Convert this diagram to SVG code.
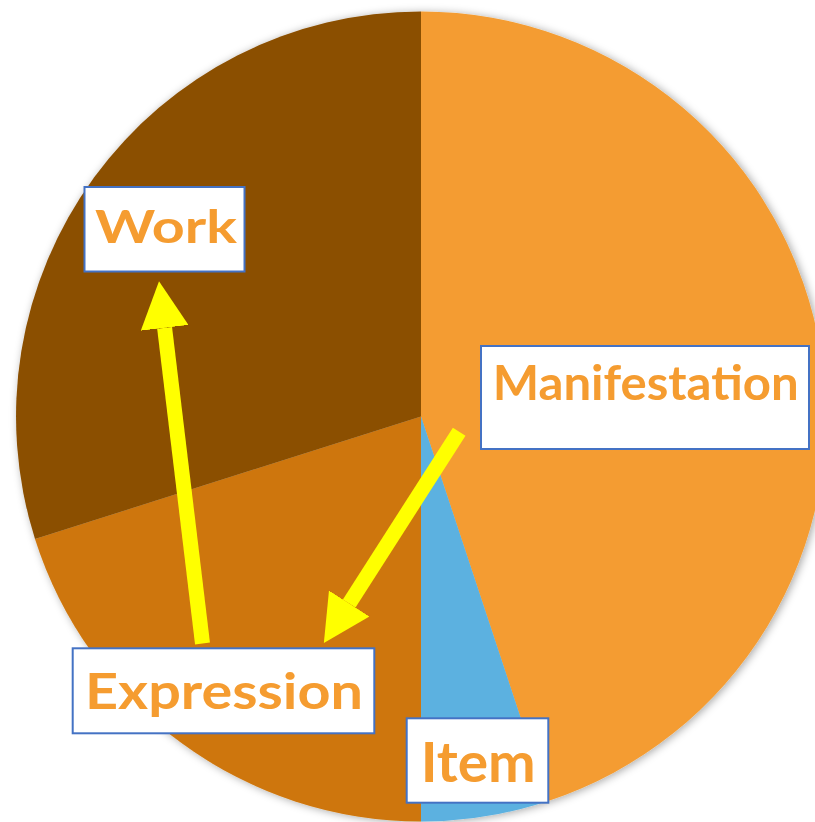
<svg xmlns="http://www.w3.org/2000/svg" width="815" height="822" viewBox="0 0 815 822">
  <defs>
    <filter id="shadow" x="-10%" y="-10%" width="120%" height="120%">
      <feDropShadow dx="2" dy="1" stdDeviation="4" flood-color="#000" flood-opacity="0.35"/>
    </filter>
    <marker id="head" markerUnits="userSpaceOnUse" markerWidth="48" markerHeight="48" refX="0" refY="24" orient="auto" viewBox="0 0 48 48">
      <path d="M0,0 L47,24 L0,48 Z" fill="#FFFF00"/>
    </marker>
    <style>
      .box { fill: #FFFFFF; stroke: #4472C4; stroke-width: 2; }
      .lbl { font-family: Lato, "Open Sans", "Liberation Sans", sans-serif; font-weight: 700; fill: #F59C30; }
      .arrow { stroke: #FFFF00; stroke-width: 15; fill: none; stroke-linecap: butt; marker-end: url(#head); }
    </style>
  </defs>
  <rect width="815" height="822" fill="#FFFFFF"/>
  <g id="pie" filter="url(#shadow)">
    <path id="slice-manifestation" d="M421,416.5 L421,11.5 A405,405 0 0 1 548.2,801 Z" fill="#F49C30"/>
    <path id="slice-item" d="M421,416.5 L548.2,801 A405,405 0 0 1 421,821.5 Z" fill="#5BB1E0"/>
    <path id="slice-expression" d="M421,416.5 L421,821.5 A405,405 0 0 1 35,539 Z" fill="#CE760A"/>
    <path id="slice-work" d="M421,416.5 L35,539 A405,405 0 0 1 421,11.5 Z" fill="#8B4F06"/>
  </g>
  <g id="connectors">
    <line class="arrow" x1="202.5" y1="643.5" x2="164.6" y2="327.8"/>
    <line class="arrow" x1="459.2" y1="431.7" x2="349.2" y2="603.5"/>
  </g>
  <g id="node-work">
    <rect class="box" x="84.5" y="187" width="160" height="84.5"/>
    <text class="lbl" x="95" y="243.3" font-size="45" textLength="142" lengthAdjust="spacingAndGlyphs">Work</text>
  </g>
  <g id="node-manifestation">
    <rect class="box" x="481" y="346" width="328" height="103"/>
    <text class="lbl" x="492.7" y="400" font-size="47.5" textLength="306" lengthAdjust="spacingAndGlyphs">Manifestation</text>
  </g>
  <g id="node-expression">
    <rect class="box" x="72.7" y="648.3" width="301.6" height="85"/>
    <text class="lbl" x="85" y="709.3" font-size="50.5" textLength="278" lengthAdjust="spacingAndGlyphs">Expression</text>
  </g>
  <g id="node-item">
    <rect class="box" x="406.7" y="718.3" width="141.6" height="84.4"/>
    <text class="lbl" x="420.7" y="781.7" font-size="56" textLength="115" lengthAdjust="spacingAndGlyphs">Item</text>
  </g>
</svg>
